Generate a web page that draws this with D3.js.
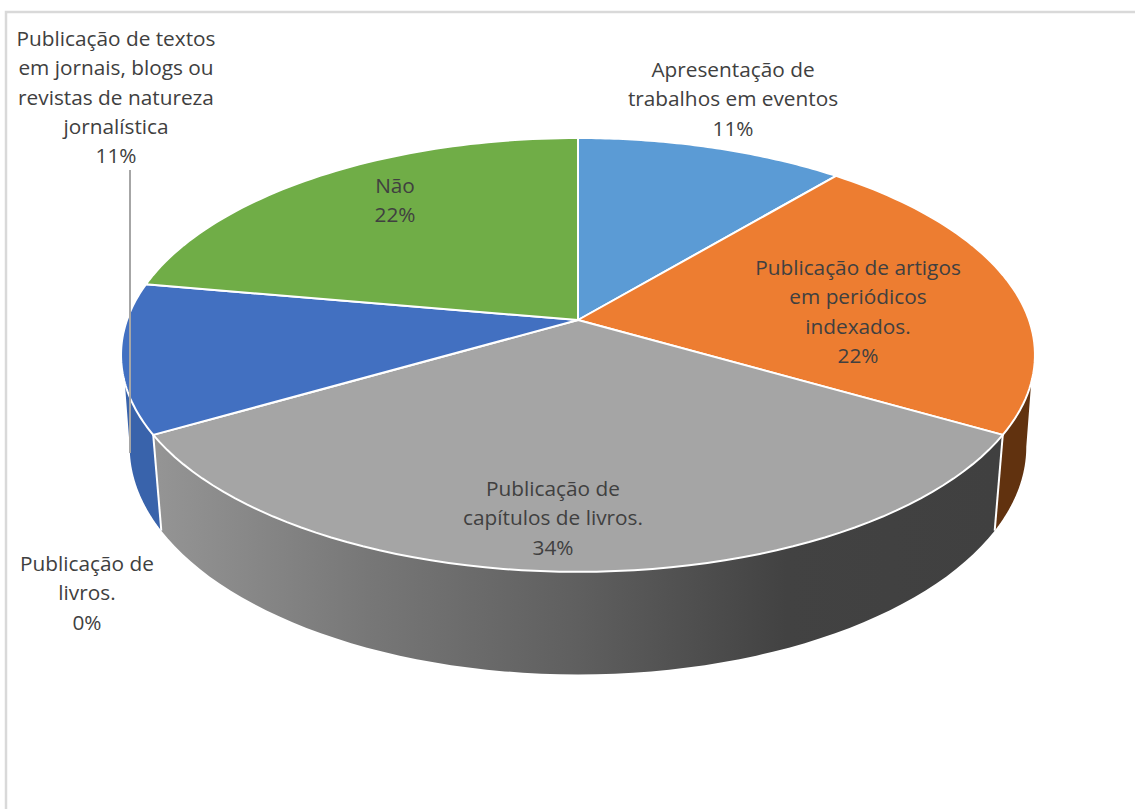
<!DOCTYPE html>
<html><head><meta charset="utf-8">
<script src="https://cdn.jsdelivr.net/npm/d3@7/dist/d3.min.js"></script>
<style>html,body{margin:0;padding:0;background:#fff}svg{display:block}text{font-family:"Open Sans",sans-serif;font-size:20.8px;fill:#404040}</style>
</head><body><svg id="c" width="1135" height="809"></svg>
<script>
const categories = ["Apresentação de trabalhos em eventos","Publicação de artigos em periódicos indexados.","Publicação de capítulos de livros.","Publicação de livros.","Publicação de textos em jornais, blogs ou revistas de natureza jornalística","Não"];
const counts = [1,2,3,0,1,2];
const percentLabels = ["11%","22%","34%","0%","11%","22%"];
const labelLines = [
 ["Apresentação de","trabalhos em eventos"],
 ["Publicação de artigos","em periódicos","indexados."],
 ["Publicação de","capítulos de livros."],
 ["Publicação de","livros."],
 ["Publicação de textos","em jornais, blogs ou","revistas de natureza","jornalística"],
 ["Não"]];
const sliceColors = ["#5b9bd5","#ed7d31","#a5a5a5","#264478","#4270c1","#70ad47"];
const sideColors = ["#3e6d98","#61320f","url(#gray)","#264478","#3963ab","#4f7a32"];
const labelAnchors = [[733,77],[858,275],[553,496],[87,571],[116,46],[395,193]];

const svg = d3.select("#c");
const W=1135,H=809;
svg.append("rect").attr("x",6).attr("y",12).attr("width",W+10).attr("height",H+10).attr("fill","#fff").attr("stroke","#d9d9d9").attr("stroke-width",2.5);

const defs = svg.append("defs");
const g = defs.append("linearGradient").attr("id","gray").attr("gradientUnits","userSpaceOnUse").attr("x1",160).attr("x2",995).attr("y1",0).attr("y2",0);
[[0,"#949494"],[0.25,"#777777"],[0.5,"#5f5f5f"],[0.75,"#424242"],[1,"#404040"]].forEach(s=>g.append("stop").attr("offset",s[0]).attr("stop-color",s[1]));

// perspective projection of the unit disc
const CX=578,CY=320,A=451,P=211.3,Q=0.161;
const top3 = a=>{const u=Math.sin(a),v=Math.cos(a),d=1+Q*v;return [CX+A*u/d,CY-P*v/d];};
const bot3 = a=>{const [x,y]=top3(a);return [CX+(x-CX)*0.981,410+(y-CY)*1.05];};
const rad=d=>d*Math.PI/180;
const sample=(a0,a1,f)=>d3.range(0,61).map(i=>f(a0+(a1-a0)*i/60));
const line=d3.line();

const arcs=d3.pie().sort(null).value(d=>d)(counts);
const topLim=[rad(106.5),rad(253.5)], botLim=[rad(99.3),rad(260.7)];

// side wall
arcs.forEach((d,i)=>{
  if(d.value===0) return;
  const t0=Math.max(d.startAngle,topLim[0]),t1=Math.min(d.endAngle,topLim[1]);
  const b0=Math.max(d.startAngle,botLim[0]),b1=Math.min(d.endAngle,botLim[1]);
  if(t1<=t0) return;
  const pts=sample(t0,t1,top3).concat(sample(b0,b1,bot3).reverse());
  svg.append("path").attr("d",line(pts)+"Z").attr("fill",sideColors[i]);
});
// white edges between wall segments
arcs.forEach((d,i)=>{
  if(d.value===0||d.endAngle<topLim[0]||d.endAngle>topLim[1]) return;
  svg.append("path").attr("d",line([top3(d.endAngle),bot3(d.endAngle)])).attr("stroke","#fff").attr("stroke-width",2).attr("fill","none");
});
// top faces
arcs.forEach((d,i)=>{
  if(d.value===0) return;
  const pts=[[CX,CY]].concat(sample(d.startAngle,d.endAngle,top3));
  svg.append("path").attr("d",line(pts)+"Z").attr("fill",sliceColors[i]).attr("stroke","#fff").attr("stroke-width",2).attr("stroke-linejoin","round");
});
// leader line
svg.append("path").attr("d",line([[130,170],[130,453]])).attr("stroke","#a6a6a6").attr("stroke-width",2).attr("fill","none");

// labels
labelLines.forEach((ls,i)=>{
  const t=svg.append("text").attr("text-anchor","middle");
  ls.concat(percentLabels[i]).forEach((s,j)=>t.append("tspan").attr("x",labelAnchors[i][0]).attr("y",labelAnchors[i][1]+j*29.3).text(s));
});
</script></body></html>
